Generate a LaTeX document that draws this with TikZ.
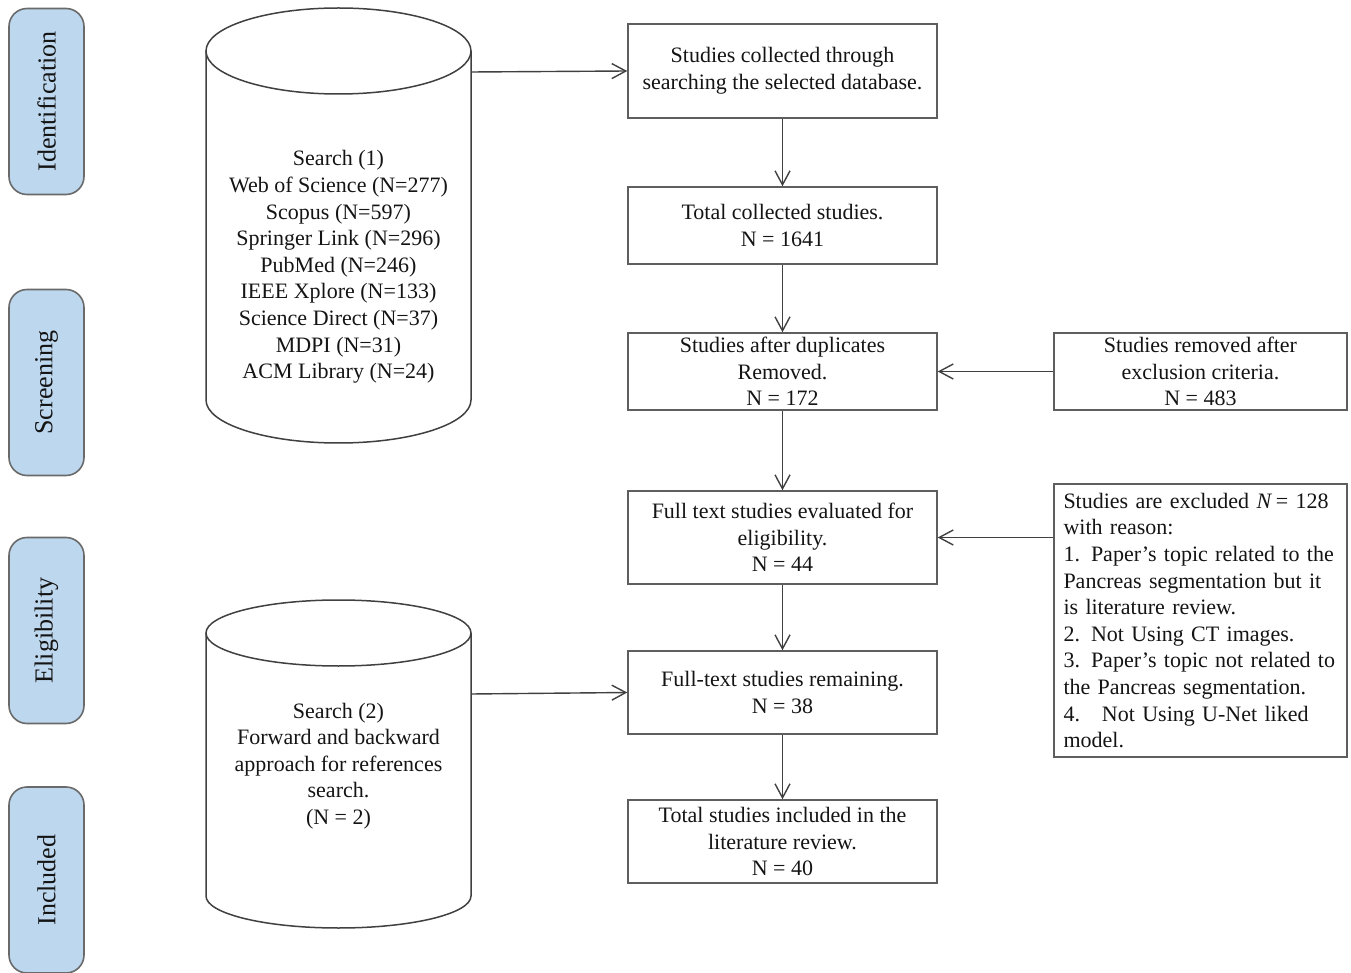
\documentclass[tikz,border=0pt]{standalone}
\usepackage{fontspec}
\setmainfont{Liberation Serif}
\usetikzlibrary{arrows.meta}
\definecolor{stagefill}{HTML}{BDD7EE}
\definecolor{stageline}{HTML}{6A6A6A}
\definecolor{boxline}{HTML}{5E5E5E}
\definecolor{txt}{HTML}{141414}
\tikzset{
  stage/.style={draw=stageline, fill=stagefill, line width=0.8pt, rounded corners=9pt,
    rotate=90, minimum width=93pt, minimum height=37.5pt, inner sep=0pt,
    font=\fontsize{13}{15}\selectfont, text=txt},
  flowbox/.style={draw=boxline, line width=0.75pt, minimum width=154.5pt, inner sep=0pt,
    align=center, font=\fontsize{11}{13.3}\selectfont, text=txt},
  sidebox/.style={draw=boxline, line width=0.75pt, minimum width=146.5pt, inner sep=0pt,
    align=center, font=\fontsize{11}{13.3}\selectfont, text=txt},
  cyltext/.style={inner sep=0pt, align=center, font=\fontsize{11}{13.3}\selectfont, text=txt},
  cylline/.style={draw=black!75, line width=0.75pt},
  arr/.style={draw=black!75, line width=0.7pt, -{Straight Barb[length=7pt,width=7.5pt]}},
}
\begin{document}
\begin{tikzpicture}[x=0.5pt,y=-0.5pt]
\useasboundingbox (0,0) rectangle (1351,973);

% stage labels
\node[stage] (s1) at (46.5,101.5) {Identification};
\node[stage] (s2) at (46.5,382.5) {Screening};
\node[stage] (s3) at (46.5,630.5) {Eligibility};
\node[stage] (s4) at (46.5,880) {Included};

% cylinder 1
\draw[cylline] (206,51) -- (206,400) arc[start angle=180,end angle=360,x radius=66.25pt,y radius=21.5pt] -- (471,51);
\draw[cylline] (338.5,51) ellipse[x radius=66.25pt,y radius=21.5pt];
\node[cyltext] (cyl1) at (338.5,267) {Search (1)\\Web of Science (N=277)\\Scopus (N=597)\\Springer Link (N=296)\\PubMed (N=246)\\IEEE Xplore (N=133)\\Science Direct (N=37)\\MDPI (N=31)\\ACM Library (N=24)};
\coordinate (c1out) at (471,72);

% cylinder 2
\draw[cylline] (206,633) -- (206,896) arc[start angle=180,end angle=360,x radius=66.25pt,y radius=16pt] -- (471,633);
\draw[cylline] (338.5,633) ellipse[x radius=66.25pt,y radius=16.5pt];
\node[cyltext] (cyl2) at (338.5,766) {Search (2)\\Forward and backward\\approach for references\\search.\\(N = 2)};
\coordinate (c2out) at (471,694);

% main flow boxes
\node[flowbox, minimum height=47pt] (b1) at (782.5,71) {Studies collected through\\searching the selected database.};
\node[flowbox, minimum height=38.5pt] (b2) at (782.5,225.5) {Total collected studies.\\N = 1641};
\node[flowbox, minimum height=38.5pt] (b3) at (782.5,371.5) {Studies after duplicates\\Removed.\\N = 172};
\node[flowbox, minimum height=46.5pt] (b4) at (782.5,537.5) {Full text studies evaluated for\\eligibility.\\N = 44};
\node[flowbox, minimum height=41.5pt] (b5) at (782.5,692.5) {Full-text studies remaining.\\N = 38};
\node[flowbox, minimum height=41.5pt] (b6) at (782.5,841.5) {Total studies included in the\\literature review.\\N = 40};

% side boxes
\node[sidebox, minimum height=38.5pt] (ra) at (1200.5,371.5) {Studies removed after\\exclusion criteria.\\N = 483};
\node[sidebox, minimum height=136.5pt, text width=137pt, align=left] (rb) at (1200.5,620.5)
 {Studies are excluded \textit{N}\,= 128\\with reason:\\1. Paper’s topic related to the\\Pancreas segmentation but it\\is literature review.\\2. Not Using CT images.\\3. Paper’s topic not related to\\the Pancreas segmentation.\\4.\ \ \ Not Using U-Net liked\\model.};

% connectors
\draw[arr] (c1out) -- (b1.west);
\draw[arr] (b1) -- (b2);
\draw[arr] (b2) -- (b3);
\draw[arr] (b3) -- (b4);
\draw[arr] (b4) -- (b5);
\draw[arr] (b5) -- (b6);
\draw[arr] (ra) -- (b3);
\draw[arr] (rb.west |- b4.east) -- (b4.east);
\draw[arr] (c2out) -- (b5.west);
\end{tikzpicture}
\end{document}
